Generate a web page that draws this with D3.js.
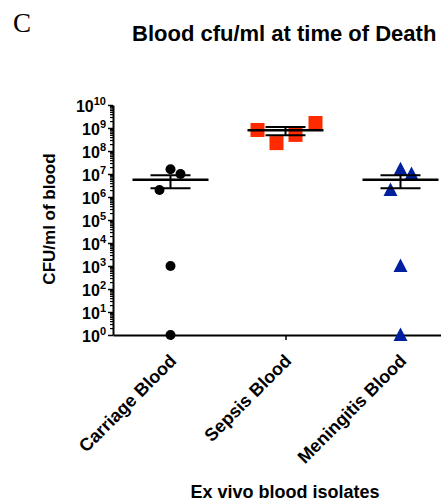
<!DOCTYPE html>
<html>
<head>
<meta charset="utf-8">
<script src="https://cdn.jsdelivr.net/npm/d3@7"></script>
<style>
body { margin: 0; background: #fff; }
text { font-family: Arial, "Liberation Sans", sans-serif; font-weight: bold; fill: #000; }
</style>
</head>
<body>
<svg id="chart" width="441" height="504"></svg>
<script>
// data
var groups = ["Carriage Blood", "Sepsis Blood", "Meningitis Blood"];
var carriage = [1, 1000, 2e6, 1.6e7, 1e7];
var sepsis = [8.2e8, 2.2e8, 5e8, 1.65e9];
var meningitis = [1, 1000, 2e6, 1.6e7, 1e7];
var decades = [0, 1, 2, 3, 4, 5, 6, 7, 8, 9, 10];

// horizontal scatter of points inside a group (px)
var carriageJitter = [0, 0, -11, 0, 10];
var sepsisJitter = [-28, -9, 10, 30];
var meningitisJitter = [0, 0, -10, 0, 11];

var svg = d3.select("#chart");

var x = d3.scalePoint()
  .domain(groups)
  .range([113, 458])
  .padding(0.5);

var y = d3.scaleLog()
  .domain([1, 1e10])
  .range([335, 105]);

// titles
svg.append("text")
  .attr("x", 13).attr("y", 32)
  .style("font-family", "'Liberation Serif', 'Times New Roman', serif")
  .style("font-weight", "normal")
  .style("font-size", "27px")
  .text("C");

svg.append("text")
  .attr("x", 132).attr("y", 41)
  .style("font-size", "22px")
  .text("Blood cfu/ml at time of Death");

svg.append("text")
  .attr("transform", "translate(55,219) rotate(-90)")
  .attr("text-anchor", "middle")
  .style("font-size", "17px")
  .text("CFU/ml of blood");

svg.append("text")
  .attr("x", 285).attr("y", 498)
  .attr("text-anchor", "middle")
  .style("font-size", "18px")
  .text("Ex vivo blood isolates");

// y axis: minor ticks
var minors = [];
decades.slice(0, -1).forEach(function(d) {
  for (var k = 2; k <= 9; k++) minors.push(k * Math.pow(10, d));
});

svg.append("g")
  .attr("transform", "translate(113,0)")
  .call(d3.axisLeft(y).tickValues(minors).tickSize(3).tickFormat(""))
  .call(function(g) { g.select(".domain").remove(); })
  .selectAll("line").attr("stroke-width", 1.2);

var yAxis = svg.append("g")
  .attr("transform", "translate(113,0)")
  .call(d3.axisLeft(y)
    .tickValues(decades.map(function(d) { return Math.pow(10, d); }))
    .tickSize(5)
    .tickSizeOuter(0)
    .tickFormat(""));

yAxis.select(".domain").attr("stroke-width", 2);
yAxis.selectAll(".tick line").attr("stroke-width", 1.5);

// tick labels 10^n
yAxis.selectAll(".tick").each(function(d, i) {
  var t = d3.select(this).append("text")
    .attr("x", -7)
    .attr("y", 6)
    .attr("text-anchor", "end")
    .style("font-size", "16px");
  t.append("tspan").text("10");
  t.append("tspan")
    .attr("dy", -7)
    .style("font-size", "11px")
    .text(decades[i]);
});

// x axis
var xAxis = svg.append("g")
  .attr("transform", "translate(0,335)")
  .call(d3.axisBottom(x).tickSize(5).tickSizeOuter(0).tickFormat(""));

xAxis.select(".domain").attr("stroke-width", 2);
xAxis.selectAll(".tick line").attr("stroke-width", 1.5);

svg.selectAll(".cat")
  .data(groups)
  .enter().append("text")
  .attr("class", "cat")
  .attr("transform", function(d) { return "translate(" + (x(d) + 7) + ",362) rotate(-45)"; })
  .attr("text-anchor", "end")
  .style("font-size", "18px")
  .text(function(d) { return d; });

// markers
function pts(values, jitter, group) {
  return values.map(function(v, i) {
    return { x: x(group) + jitter[i], y: y(v) };
  });
}

svg.selectAll(".dot")
  .data(pts(carriage, carriageJitter, groups[0]))
  .enter().append("circle")
  .attr("cx", function(d) { return d.x; })
  .attr("cy", function(d) { return d.y; })
  .attr("r", 5)
  .style("fill", "#000");

svg.selectAll(".sq")
  .data(pts(sepsis, sepsisJitter, groups[1]))
  .enter().append("rect")
  .attr("x", function(d) { return d.x - 7; })
  .attr("y", function(d) { return d.y - 7; })
  .attr("width", 14)
  .attr("height", 14)
  .style("fill", "#ff2a00");

svg.selectAll(".tri")
  .data(pts(meningitis, meningitisJitter, groups[2]))
  .enter().append("path")
  .attr("d", "M0,-7.5L7,6L-7,6Z")
  .attr("transform", function(d) { return "translate(" + d.x + "," + d.y + ")"; })
  .style("fill", "#00209f");

// mean +/- SEM
var sets = [carriage, sepsis, meningitis];
sets.forEach(function(vals, i) {
  var cx = x(groups[i]);
  var m = d3.mean(vals);
  var sem = d3.deviation(vals) / Math.sqrt(vals.length);
  var g = svg.append("g").style("stroke", "#000");
  g.append("line")
    .attr("x1", cx - 38).attr("x2", cx + 38)
    .attr("y1", y(m)).attr("y2", y(m))
    .attr("stroke-width", 2.5);
  [m + sem, m - sem].forEach(function(v) {
    g.append("line")
      .attr("x1", cx - 20).attr("x2", cx + 20)
      .attr("y1", y(v)).attr("y2", y(v))
      .attr("stroke-width", 2);
  });
  g.append("line")
    .attr("x1", cx).attr("x2", cx)
    .attr("y1", y(m + sem)).attr("y2", y(m - sem))
    .attr("stroke-width", 2);
});
</script>
</body>
</html>
